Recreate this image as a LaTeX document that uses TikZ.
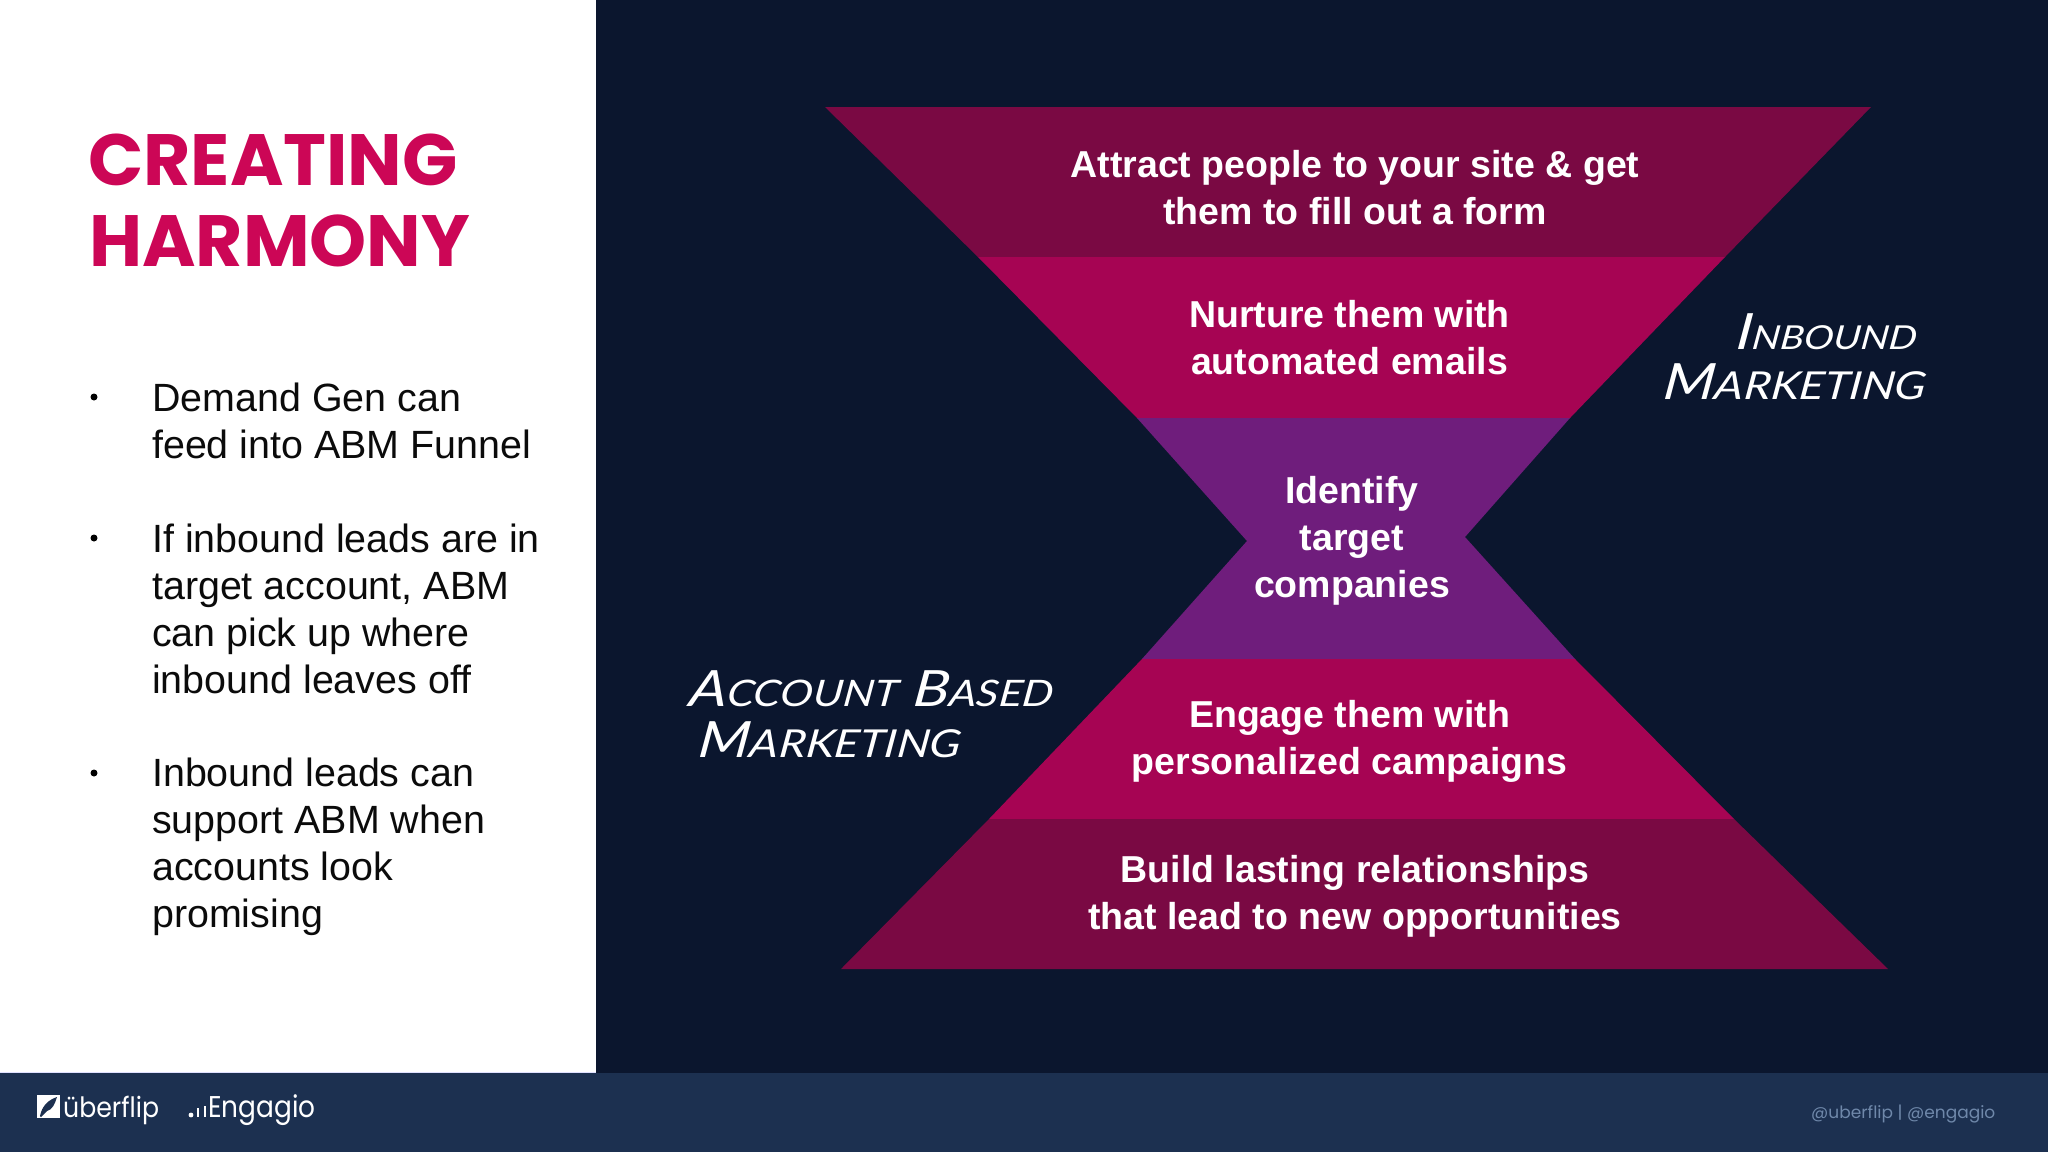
\documentclass[tikz,border=0pt]{standalone}
\usepackage{fontspec}
\setmainfont{Liberation Sans}
\newfontfamily\titlefont{Poppins}
\newfontfamily\handfont[FakeStretch=1.2]{Lato}
\newfontfamily\uberfont[FakeStretch=0.9]{Poppins}
\newfontfamily\engfont[FakeStretch=0.88]{Poppins}
\usetikzlibrary{calc}
\definecolor{bgdark}{HTML}{0B162E}
\definecolor{footbg}{HTML}{1C3050}
\definecolor{banddark}{HTML}{7A0943}
\definecolor{bandrose}{HTML}{A60453}
\definecolor{bandviolet}{HTML}{6F1D7C}
\definecolor{titlerose}{HTML}{CC0656}
\definecolor{handle}{HTML}{6F88AA}
\definecolor{inkbody}{HTML}{0B0B0B}
\newcommand{\hwcap}[1]{{\fontsize{50}{50}\selectfont #1}}
\newcommand{\hwsmall}[1]{{\fontsize{38.5}{38}\selectfont #1}}
\newcommand{\hwsmaller}[1]{{\fontsize{33}{33}\selectfont #1}}
\newcommand{\hwmid}[1]{{\fontsize{36.5}{36}\selectfont #1}}
\tikzset{
  x=1pt,y=-1pt,
  bandtext/.style={inner sep=0pt,align=center,text=white,font=\fontsize{37.5}{47}\selectfont\bfseries},
  bodytext/.style={inner sep=0pt,anchor=west,align=left,text=inkbody,font=\fontsize{39.4}{47}\selectfont},
  titletext/.style={inner sep=0pt,anchor=base west,text=titlerose,font=\fontsize{72.6}{72}\titlefont\bfseries},
  handtext/.style={inner sep=0pt,anchor=base west,text=white,font=\handfont\itshape,xslant=0.12},
  logotext/.style={inner sep=0pt,anchor=base west,text=white},
  dotbullet/.style={circle,fill=black,inner sep=0pt,minimum size=7pt},
}
\begin{document}
\begin{tikzpicture}
\useasboundingbox (0,0) rectangle (2048,1152);
% backgrounds
\fill[bgdark] (0,0) rectangle (2048,1152);
\fill[white] (0,0) rectangle (595.5,1073);
\fill[footbg] (0,1073) rectangle (2048,1152);
\fill[blue!12!white] (0,1072) rectangle (595.5,1073);
% funnel bands
\fill[banddark] (825,107) -- (1871,107) -- (1725,257) -- (978,257) -- cycle;
\fill[bandrose] (978,257) -- (1725,257) -- (1570,418) -- (1137,418) -- cycle;
\fill[bandviolet] (1137,418) -- (1570,418) -- (1465,537) -- (1575,659) -- (1142,659) -- (1247,541) -- cycle;
\fill[bandrose] (1142,659) -- (1575,659) -- (1734,819) -- (989,819) -- cycle;
\fill[banddark] (989,819) -- (1734,819) -- (1888,969) -- (841,969) -- cycle;
% funnel text
\node[bandtext] (t1) at (1355,188) {Attract people to your site \& get\\them to fill out a form};
\node[bandtext] (t2) at (1349.5,338) {Nurture them with\\automated emails};
\node[bandtext] (t3) at (1352,540.5) {Identify\\target\\companies};
\node[bandtext] (t4) at (1349.5,741) {Engage them with\\personalized campaigns};
\node[bandtext] (t5) at (1355,896.5) {Build lasting relationships\\that lead to new opportunities};
% title
\node[titletext] (title1) at (88,185) {CREATING};
\node[titletext] (title2) at (89,266) {HARMONY};
% bullets
\node[dotbullet] (b1) at (94,397) {};
\node[dotbullet] (b2) at (94,538) {};
\node[dotbullet] (b3) at (94,773) {};
\node[bodytext] (p1) at (152,421) {Demand Gen can\\feed into ABM Funnel};
\node[bodytext] (p2) at (152,609) {If inbound leads are in\\target account, ABM\\can pick up where\\inbound leaves off};
\node[bodytext] (p3) at (152,847) {Inbound leads can\\support ABM when\\accounts look\\promising};
% handwritten labels
\node[handtext] (abm1) at (688,706) {\hwcap{A}\hwmid{CCOUNT}\hspace{15pt}\hwcap{B}\hwmid{ASED}};
\node[handtext] (abm2) at (697,757) {\hwcap{M}\hwsmall{ARKETING}};
\node[handtext] (in1) at (1735,349) {\hwcap{I}\hwsmaller{NBOUND}};
\node[handtext] (in2) at (1662,399) {\hwcap{M}\hwsmall{ARKETING}};
% footer logos
\fill[white] (37,1095) rectangle (60,1118);
\fill[footbg] (40,1116) .. controls (42,1106) and (48,1100) .. (57,1097) .. controls (55,1104) and (52,1110) .. (47,1111) -- (41,1117) -- cycle;
\node[logotext,font=\fontsize{28}{28}\uberfont] (uf) at (63,1117) {überflip};
\fill[white] (191,1115) circle (2.4);
\fill[white] (197,1108) rectangle (199,1117);
\fill[white] (204,1106) rectangle (206,1117);
\node[logotext,font=\fontsize{30}{30}\engfont] (eg) at (208,1117) {Engagio};
\node[inner sep=0pt,anchor=base west,text=handle,font=\fontsize{17}{17}\titlefont] (hd) at (1811,1118.5) {@uberflip | @engagio};
\end{tikzpicture}
\end{document}
